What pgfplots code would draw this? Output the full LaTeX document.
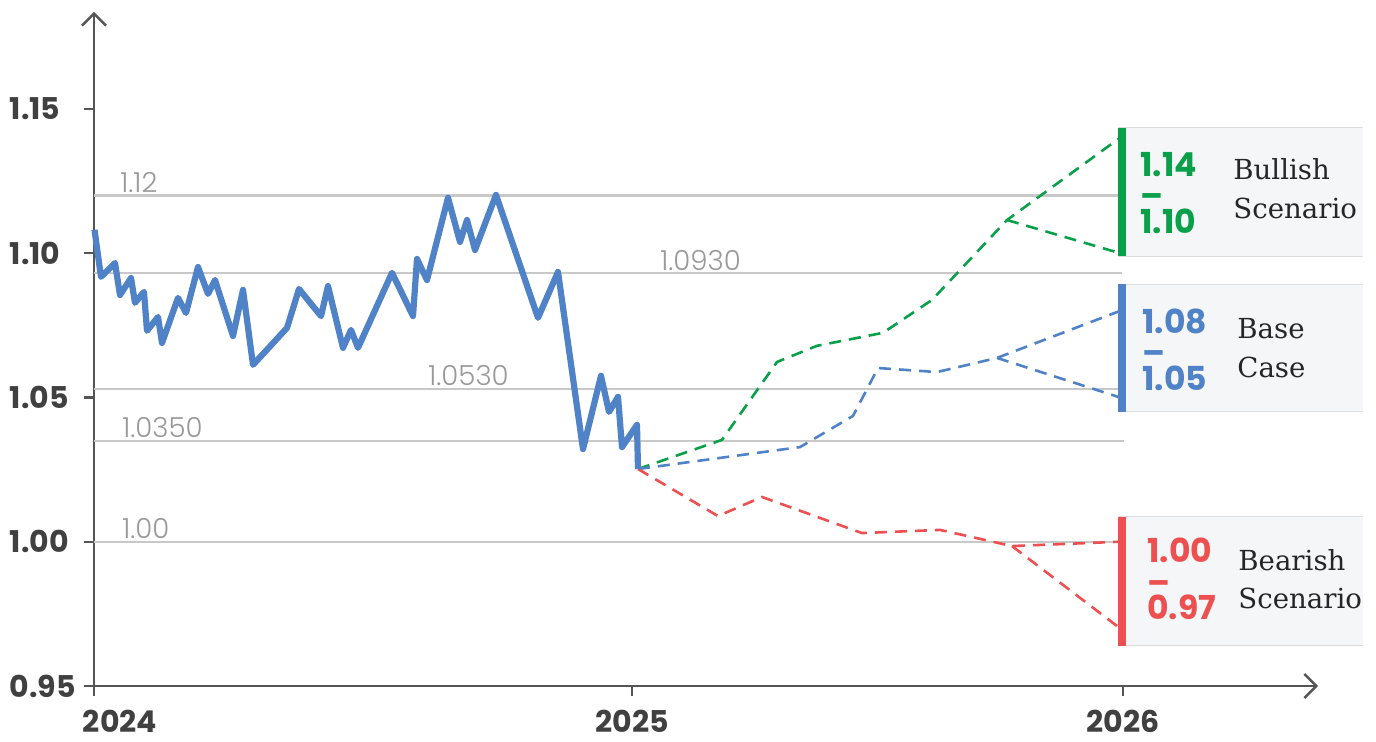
\documentclass[border=0pt]{standalone}
\usepackage{pgfplots}
\pgfplotsset{compat=1.18}
\usetikzlibrary{arrows.meta}
\usepackage{fontspec}
\setmainfont{Poppins}
\newfontfamily\lightfont{Poppins Light}
\newfontfamily\slab{DejaVu Serif}
\definecolor{cgreen}{HTML}{0AA04A}
\definecolor{cblue}{HTML}{4F82C6}
\definecolor{cred}{HTML}{EC5050}
\definecolor{axisgray}{HTML}{555555}
\definecolor{labgray}{HTML}{404040}
\definecolor{gridc}{HTML}{C8C8C8}
\definecolor{gridtext}{HTML}{999999}
\definecolor{boxfill}{HTML}{F5F6F8}
\definecolor{boxline}{HTML}{DDDDDD}
\newcommand{\yl}[1]{\makebox[29pt][l]{#1}}
\begin{document}
\begin{tikzpicture}
\begin{axis}[
 scale only axis, width=612pt, height=337pt,
 xmin=94, xmax=1318, ymin=0.95, ymax=1.1836,
 axis x line=bottom, axis y line=left,
 axis line style={draw=axisgray, line width=1.2pt, -{Straight Barb[length=6pt,width=12pt]}},
 xtick={94,632,1123}, xticklabels={\makebox[0pt][l]{\hspace*{-5.5pt}2024},2025,2026},
 ytick={0.95,1.00,1.05,1.10,1.15}, yticklabels={\yl{0.95},\yl{1.00},\yl{1.05},\yl{1.10},\yl{1.15}},
 tick align=outside, major tick length=5pt,
 tick style={draw=axisgray, line width=1.2pt},
 ticklabel style={font=\bfseries\fontsize{15}{16}\selectfont, text=labgray},
 y tick label style={xshift=-4.5pt},
 x tick label style={inner sep=0pt, yshift=-7pt},
 clip=false,
]
% reference lines
\addplot[gridc, line width=1.1pt, forget plot] coordinates {(94,1.12) (1118,1.12)};
\addplot[gridc, line width=1.1pt, forget plot] coordinates {(94,1.093) (1122,1.093)};
\addplot[gridc, line width=1.1pt, forget plot] coordinates {(94,1.053) (1118,1.053)};
\addplot[gridc, line width=1.1pt, forget plot] coordinates {(94,1.035) (1124,1.035)};
\addplot[gridc, line width=1.1pt, forget plot] coordinates {(94,1.00) (1118,1.00)};
\tikzset{glab/.style={anchor=base west, inner sep=0, font=\lightfont\fontsize{13.8}{14}\selectfont, text=gridtext, yshift=1.5pt}}
\node[glab] at (axis cs:120,1.12) {1.12};
\node[glab] at (axis cs:660,1.093) {1.0930};
\node[glab] at (axis cs:428,1.053) {1.0530};
\node[glab] at (axis cs:122,1.035) {1.0350};
\node[glab] at (axis cs:122,1.00) {1.00};
% panels
\fill[boxfill] (axis cs:1118,1.1434) rectangle (axis cs:1363,1.0990);
\draw[boxline, line width=0.5pt] (axis cs:1118,1.1434) -- (axis cs:1363,1.1434) (axis cs:1118,1.0990) -- (axis cs:1363,1.0990);
\fill[boxfill] (axis cs:1118,1.0893) rectangle (axis cs:1363,1.0450);
\draw[boxline, line width=0.5pt] (axis cs:1118,1.0893) -- (axis cs:1363,1.0893) (axis cs:1118,1.0450) -- (axis cs:1363,1.0450);
\fill[boxfill] (axis cs:1118,1.0086) rectangle (axis cs:1363,0.9639);
\draw[boxline, line width=0.5pt] (axis cs:1118,1.0086) -- (axis cs:1363,1.0086) (axis cs:1118,0.9639) -- (axis cs:1363,0.9639);
% scenario paths
\addplot[cgreen, line width=1.3pt, dash pattern=on 6pt off 4pt] coordinates {(638,1.0252)(722,1.0353)(777,1.0623)(817,1.0679)(883,1.0724)(932,1.0838)(1007,1.1115)(1120,1.14)};
\addplot[cgreen, line width=1.3pt, dash pattern=on 6pt off 4pt] coordinates {(1007,1.1115)(1120,1.10)};
\addplot[cblue, line width=1.3pt, dash pattern=on 6pt off 4pt] coordinates {(638,1.0252)(800,1.0328)(853,1.0436)(878,1.0602)(937,1.0588)(997,1.0637)(1120,1.08)};
\addplot[cblue, line width=1.3pt, dash pattern=on 6pt off 4pt] coordinates {(997,1.0637)(1120,1.05)};
\addplot[cred, line width=1.3pt, dash pattern=on 6pt off 4pt] coordinates {(638,1.0252)(718,1.0089)(762,1.0155)(862,1.0030)(940,1.0041)(1012,0.9985)(1120,1.00)};
\addplot[cred, line width=1.3pt, dash pattern=on 6pt off 4pt] coordinates {(1012,0.9985)(1120,0.97)};
% history
\addplot[cblue, line width=3.1pt, line join=round] coordinates {
(94.5,1.1081)(101,1.0918)(115,1.0966)(120,1.0855)(131,1.0914)(135,1.0828)(144,1.0866)(147,1.0731)(158,1.0779)(162,1.0689)(178,1.0845)(186,1.0793)(198,1.0952)(208,1.0859)(215,1.0907)(233,1.0713)(243,1.0873)(253,1.0613)(287,1.0741)(299,1.0876)(321,1.0782)(328,1.0886)(343,1.0672)(351,1.0734)(358,1.0672)(392,1.0932)(413,1.0782)(417,1.0980)(427,1.0907)(448,1.1192)(460,1.1039)(467,1.1115)(475,1.1011)(496,1.1202)(538,1.0776)(558,1.0935)(583,1.0321)(601,1.0575)(609,1.0450)(618,1.0502)(622,1.0328)(637,1.0405)(638,1.0252)};
% bars
\fill[cgreen] (axis cs:1118,1.1434) rectangle (axis cs:1126,1.0990);
\fill[cblue] (axis cs:1118,1.0893) rectangle (axis cs:1126,1.0450);
\fill[cred] (axis cs:1118,1.0086) rectangle (axis cs:1126,0.9639);
% texts
\tikzset{num/.style={anchor=west, inner sep=0, align=left, font=\bfseries\fontsize{16.5}{14.25}\selectfont},
         lab/.style={anchor=west, inner sep=0, align=left, font=\slab\fontsize{13.8}{19.3}\selectfont, text=black!85}}
\node[num, text=cgreen] at (axis cs:1140,1.1209) {1.14\\\raisebox{-1.4pt}{–}\\1.10};
\node[lab] at (axis cs:1233,1.1223) {Bullish\\Scenario};
\node[num, text=cblue] at (axis cs:1142,1.0665) {1.08\\\raisebox{-1.4pt}{–}\\1.05};
\node[lab] at (axis cs:1237,1.0670) {Base\\Case};
\node[num, text=cred] at (axis cs:1147,0.9870) {1.00\\\raisebox{-1.4pt}{–}\\0.97};
\node[lab] at (axis cs:1238,0.9870) {Bearish\\Scenario};
\end{axis}
\pgfresetboundingbox
\useasboundingbox (-47pt,-28pt) rectangle (641pt,343pt);
\end{tikzpicture}
\end{document}
